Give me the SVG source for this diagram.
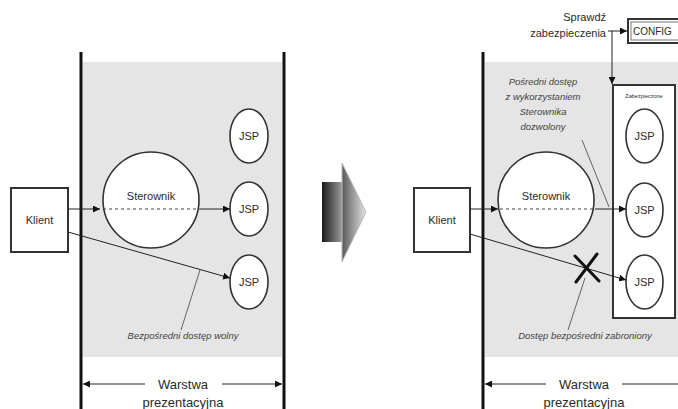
<svg xmlns="http://www.w3.org/2000/svg" width="678" height="409" viewBox="0 0 678 409">
  <defs>
    <marker id="ah" viewBox="0 0 10 10" refX="10" refY="5" markerWidth="7" markerHeight="7" orient="auto-start-reverse" markerUnits="userSpaceOnUse">
      <path d="M0,0 L10,5 L0,10 z" fill="#111"/>
    </marker>
    <linearGradient id="bigArrowRect" x1="0" y1="0" x2="1" y2="0">
      <stop offset="0" stop-color="#1a1a1a"/>
      <stop offset="1" stop-color="#9a9a9a"/>
    </linearGradient>
    <linearGradient id="bigArrowHead" x1="0" y1="0" x2="1" y2="0">
      <stop offset="0" stop-color="#5a5a5a"/>
      <stop offset="1" stop-color="#e4e4e4"/>
    </linearGradient>
  </defs>
  <style>
    .t { font-family: "Liberation Sans", Arial, sans-serif; fill: #2a2a2a; }
    .lbl { font-size: 11px; text-anchor: middle; }
    .note { font-size: 9.5px; font-style: italic; fill: #444; text-anchor: middle; font-family: "Liberation Sans", Arial, sans-serif; }
    .dim { font-size: 13px; text-anchor: middle; }
    .wall { stroke: #111; stroke-width: 3; }
    .zone { fill: #e5e5e5; }
    .box { fill: #fff; stroke: #333; stroke-width: 2; }
    .node { fill: #fff; stroke: #333; stroke-width: 1.6; }
    .ln { stroke: #222; stroke-width: 1; fill: none; }
    .dash { stroke: #444; stroke-width: 1; stroke-dasharray: 3 3; fill: none; }
    .call { stroke: #555; stroke-width: 0.9; fill: none; }
  </style>

  <rect width="678" height="409" fill="#fff"/>

  <!-- left panel: presentation tier zone -->
  <g id="left-tier">
    <rect class="zone" x="83" y="62" width="199" height="295"/>
    <line class="wall" x1="81" y1="52" x2="81" y2="409"/>
    <line class="wall" x1="284" y1="52" x2="284" y2="409"/>
  </g>

  <!-- right panel: presentation tier zone -->
  <g id="right-tier">
    <rect class="zone" x="485" y="62" width="193" height="295"/>
    <line class="wall" x1="483" y1="52" x2="483" y2="409"/>
  </g>

  <!-- transition arrow -->
  <g id="transition">
    <rect x="322" y="182" width="20" height="60" fill="url(#bigArrowRect)"/>
    <polygon points="342,163 366,212 342,262" fill="url(#bigArrowHead)" stroke="#bbb" stroke-width="1"/>
  </g>

  <!-- left panel nodes -->
  <g id="klient-a">
    <rect class="box" x="11" y="188" width="57" height="64"/>
    <text class="t lbl" x="39.5" y="224">Klient</text>
  </g>
  <g id="sterownik-a">
    <circle class="node" cx="151" cy="200" r="48"/>
    <text class="t lbl" x="151" y="200">Sterownik</text>
  </g>
  <g id="jsp-a1">
    <ellipse class="node" cx="249" cy="136" rx="19" ry="27"/>
    <text class="t lbl" x="249" y="140">JSP</text>
  </g>
  <g id="jsp-a2">
    <ellipse class="node" cx="249" cy="209" rx="19" ry="27"/>
    <text class="t lbl" x="249" y="213">JSP</text>
  </g>
  <g id="jsp-a3">
    <ellipse class="node" cx="249" cy="282" rx="19" ry="27"/>
    <text class="t lbl" x="249" y="286">JSP</text>
  </g>

  <!-- right panel nodes -->
  <g id="klient-b">
    <rect class="box" x="414" y="188" width="56" height="64"/>
    <text class="t lbl" x="442" y="224">Klient</text>
  </g>
  <g id="sterownik-b">
    <circle class="node" cx="546" cy="200" r="48"/>
    <text class="t lbl" x="546" y="200">Sterownik</text>
  </g>
  <g id="secured">
    <rect class="box" x="613" y="85" width="62" height="233"/>
    <text class="t" x="644" y="98" font-size="5.5" text-anchor="middle">Zabezpieczone</text>
  </g>
  <g id="jsp-b1">
    <ellipse class="node" cx="644.5" cy="136" rx="18.5" ry="27"/>
    <text class="t lbl" x="644.5" y="140">JSP</text>
  </g>
  <g id="jsp-b2">
    <ellipse class="node" cx="644.5" cy="210" rx="18.5" ry="27"/>
    <text class="t lbl" x="644.5" y="214">JSP</text>
  </g>
  <g id="jsp-b3">
    <ellipse class="node" cx="644.5" cy="282" rx="18.5" ry="27"/>
    <text class="t lbl" x="644.5" y="286">JSP</text>
  </g>
  <g id="config">
    <rect x="628" y="19" width="56" height="24" fill="#fff" stroke="#333" stroke-width="2"/>
    <rect x="631" y="22" width="50" height="18" fill="none" stroke="#555" stroke-width="0.8"/>
    <text class="t" x="633" y="35" font-size="10">CONFIG</text>
  </g>

  <!-- connectors -->
  <g id="connectors">
    <!-- left: via controller -->
    <line class="ln" x1="68" y1="209" x2="100" y2="209" marker-end="url(#ah)"/>
    <line class="dash" x1="103" y1="209" x2="200" y2="209"/>
    <line class="ln" x1="200" y1="209" x2="230" y2="209" marker-end="url(#ah)"/>
    <!-- left: direct -->
    <line class="ln" x1="68" y1="232" x2="230" y2="278" marker-end="url(#ah)"/>
    <line class="call" x1="200" y1="270" x2="181" y2="330"/>

    <!-- right: via controller -->
    <line class="ln" x1="470" y1="209" x2="498" y2="209" marker-end="url(#ah)"/>
    <line class="dash" x1="500" y1="209" x2="595" y2="209"/>
    <line class="ln" x1="595" y1="209" x2="626" y2="209" marker-end="url(#ah)"/>
    <line class="call" x1="582" y1="140" x2="609" y2="207"/>
    <!-- right: direct, blocked -->
    <line class="ln" x1="470" y1="234" x2="626" y2="280" marker-end="url(#ah)"/>
    <line class="call" x1="585" y1="278" x2="568" y2="330"/>
    <g stroke="#111" stroke-width="3" stroke-linecap="round">
      <line x1="575" y1="256" x2="599" y2="281"/>
      <line x1="597" y1="254" x2="576" y2="282"/>
    </g>

    <!-- security check -->
    <line class="ln" x1="608" y1="31" x2="627" y2="31" marker-end="url(#ah)"/>
    <line class="ln" x1="612" y1="31" x2="612" y2="84" marker-end="url(#ah)"/>

    <!-- tier dimension arrows -->
    <line class="ln" x1="83" y1="384" x2="145" y2="384" marker-start="url(#ah)"/>
    <line class="ln" x1="222" y1="384" x2="282" y2="384" marker-end="url(#ah)"/>
    <line class="ln" x1="485" y1="384" x2="546" y2="384" marker-start="url(#ah)"/>
    <line class="ln" x1="622" y1="384" x2="678" y2="384"/>
  </g>

  <!-- annotations -->
  <g id="annotations">
    <text class="note" x="183" y="339">Bezpośredni dostęp wolny</text>
    <text class="note" x="585" y="339">Dostęp bezpośredni zabroniony</text>
    <text class="note" x="543" y="85">Pośredni dostęp</text>
    <text class="note" x="543" y="100">z wykorzystaniem</text>
    <text class="note" x="543" y="115">Sterownika</text>
    <text class="note" x="543" y="130">dozwolony</text>
    <text class="t" x="606" y="21" font-size="11" text-anchor="end">Sprawdź</text>
    <text class="t" x="606" y="37" font-size="11" text-anchor="end">zabezpieczenia</text>
    <text class="t dim" x="183" y="389">Warstwa</text>
    <text class="t dim" x="183" y="407">prezentacyjna</text>
    <text class="t dim" x="584" y="389">Warstwa</text>
    <text class="t dim" x="584" y="407">prezentacyjna</text>
  </g>
</svg>
